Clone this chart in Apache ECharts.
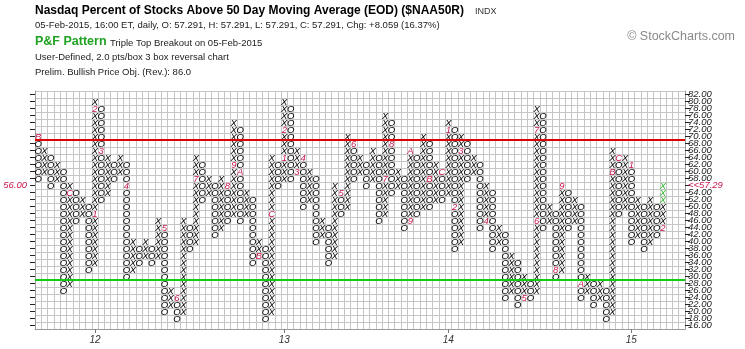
<!DOCTYPE html>
<html>
<head>
<meta charset="utf-8">
<script src="https://cdn.jsdelivr.net/npm/echarts/dist/echarts.min.js"></script>
<style>
  html, body { margin: 0; padding: 0; background: #fff; }
  #chart { width: 745px; height: 349px; }
</style>
</head>
<body>
<div id="chart"></div>
<script>
// Box scale: 2 points per box, 3 box reversal
const boxLevels = [];
for (let v = 16; v <= 82; v += 2) boxLevels.push(v);

// Point & figure columns, oldest first. Columns alternate O / X, starting with O.
const colLow  = [58,60,56,58,26,28,46,48,32,34,52,54,58,60,30,32,34,36,34,36,
                 20,22,18,20,38,40,52,54,42,44,46,48,46,48,34,36,18,20,56,58,
                 58,60,50,52,40,42,34,36,48,50,58,60,56,58,46,48,54,56,44,46,
                 48,50,50,52,52,54,38,40,58,60,44,46,38,40,24,26,22,24,24,26,
                 44,46,30,32,44,46,24,26,22,24,18,20,48,50,40,42,38,40,42,44];
const colHigh = [70,66,64,62,60,56,54,52,50,80,78,64,62,64,62,40,38,40,38,46,
                 44,26,24,46,44,64,62,58,56,58,56,74,72,54,52,40,38,64,62,80,
                 78,66,64,60,58,46,44,56,54,70,68,64,62,66,64,76,74,60,58,66,
                 64,70,68,62,60,74,72,70,68,64,62,56,54,44,42,36,34,30,28,78,
                 76,50,48,56,54,52,50,30,28,28,26,66,64,64,62,52,50,52,50,56];

// Month markers (1-9 = Jan-Sep, A-C = Oct-Dec): column, box, label
const markCol  = [0, 5, 9, 9, 10,14,20,22,25,30,31,32,35,37,39,39,41,42,48,50,
                  55,56,59,59,62,64,65,66,67,71,77,79,79,82,83,86,91,92,94,99];
const markBox  = [70,54,48,78,66,56,44,24,58,56,62,60,36,48,64,72,60,64,54,68,
                  58,68,46,66,58,60,72,50,66,46,24,46,72,32,56,28,60,64,62,44];
const markText = ['B','C','1','2','3','4','5','6','7','8','9','A','B','C','1','2','3','4','5','6',
                  '7','8','9','A','B','C','1','2','3','4','5','6','7','8','9','A','B','C','1','2'];

// Newest boxes of the last column
const latestBoxes = [52, 54, 56];

// Year labels on the column axis
const yearCols   = [9, 39, 65, 94];
const yearLabels = ['12', '13', '14', '15'];

const totalCols = 103;
const lastPrice = 57.29;
const lastBox = 56;
const overboughtLine = 69;
const oversoldLine = 29;

const RED = '#c8174a';
const boxes = [];
for (let c = 0; c < colLow.length; c++) {
  const kind = c % 2 === 0 ? 'O' : 'X';
  for (let v = colLow[c]; v <= colHigh[c]; v += 2) {
    let text = kind, color = '#000';
    for (let i = 0; i < markCol.length; i++) {
      if (markCol[i] === c && markBox[i] === v) { text = markText[i]; color = RED; }
    }
    if (text === kind && c === colLow.length - 1 && latestBoxes.includes(v)) color = '#2fb52f';
    boxes.push({ c, v, text, color });
  }
}

const levelLabels = boxLevels.map(v => v.toFixed(2));
const colCats = Array.from({ length: totalCols }, (_, i) => i);
const labelFont = '"Liberation Sans", Arial, sans-serif';

const chart = echarts.init(document.getElementById('chart'), null, { renderer: 'canvas' });
chart.setOption({
  animation: false,
  backgroundColor: '#fff',
  grid: { left: 35, top: 91, width: 650, height: 238, containLabel: false },
  xAxis: {
    type: 'category',
    data: colCats,
    boundaryGap: true,
    axisLine: { show: true, lineStyle: { color: '#9a9a9a' } },
    axisTick: {
      show: true, alignWithLabel: true, length: 4,
      interval: (i) => yearCols.includes(i),
      lineStyle: { color: '#777' }
    },
    axisLabel: {
      show: true, interval: (i) => yearCols.includes(i), margin: 6,
      formatter: (val) => { const k = yearCols.indexOf(Number(val)); return k >= 0 ? yearLabels[k] : ''; },
      color: '#333', fontSize: 10, fontStyle: 'italic', fontFamily: labelFont
    },
    splitLine: { show: true, interval: 0, lineStyle: { color: '#c6c6c6', width: 1 } }
  },
  yAxis: [
    {
      type: 'category', position: 'right', data: levelLabels, boundaryGap: true,
      axisLine: { show: true, lineStyle: { color: '#9a9a9a' } },
      axisTick: { show: true, interval: 0, alignWithLabel: true, length: 5, lineStyle: { color: '#222' } },
      axisLabel: {
        interval: 0, margin: 3, fontSize: 9.5, fontStyle: 'italic', color: '#222', fontFamily: labelFont,
        formatter: (v) => Number(v) === lastBox ? '{cur|<<' + lastPrice.toFixed(2) + '}' : v,
        rich: { cur: { color: RED, fontStyle: 'italic', fontSize: 9.5, fontFamily: labelFont } }
      },
      splitLine: { show: true, interval: 0, lineStyle: { color: '#c6c6c6', width: 1 } }
    },
    {
      type: 'category', position: 'left', data: levelLabels, boundaryGap: true,
      axisLine: { show: true, lineStyle: { color: '#9a9a9a' } },
      axisTick: { show: true, interval: 0, alignWithLabel: true, length: 5, lineStyle: { color: '#222' } },
      axisLabel: {
        interval: 0, margin: 8, fontSize: 9.5, fontStyle: 'italic', color: RED, fontFamily: labelFont,
        formatter: (v) => Number(v) === lastBox ? v : ''
      },
      splitLine: { show: false }
    },
    { type: 'value', min: 15, max: 83, show: false }
  ],
  series: [{
    type: 'custom',
    xAxisIndex: 0,
    yAxisIndex: 2,
    data: boxes.map(b => [b.c, b.v]),
    encode: { x: 0, y: 1 },
    clip: false,
    renderItem: (params, api) => {
      const b = boxes[params.dataIndex];
      const p = api.coord([b.c, b.v]);
      return {
        type: 'text',
        x: p[0], y: p[1] + 0.5,
        style: {
          text: b.text,
          fill: b.color,
          font: 'italic 9.5px ' + labelFont,
          align: 'center',
          verticalAlign: 'middle'
        }
      };
    },
    markLine: {
      silent: true, symbol: 'none', label: { show: false },
      data: [
        { yAxis: overboughtLine, lineStyle: { color: '#dd0000', width: 2, type: 'solid' } },
        { yAxis: oversoldLine, lineStyle: { color: '#11cc11', width: 2, type: 'solid' } }
      ]
    }
  }],
  graphic: [
    { type: 'text', left: 35, top: 5, style: { text: 'Nasdaq Percent of Stocks Above 50 Day Moving Average (EOD) ($NAA50R)', font: 'bold 12px ' + labelFont, fill: '#000' } },
    { type: 'text', left: 475, top: 7, style: { text: 'INDX', font: '9px ' + labelFont, fill: '#333' } },
    { type: 'text', left: 35, top: 20, style: { text: '05-Feb-2015, 16:00 ET, daily, O: 57.291, H: 57.291, L: 57.291, C: 57.291, Chg: +8.059 (16.37%)', font: '9.5px ' + labelFont, fill: '#222' } },
    { type: 'text', left: 35, top: 35, style: { text: 'P&F Pattern', font: 'bold 12.5px ' + labelFont, fill: '#21a121' } },
    { type: 'text', left: 110, top: 38, style: { text: 'Triple Top Breakout on 05-Feb-2015', font: '9.5px ' + labelFont, fill: '#222' } },
    { type: 'text', left: 35, top: 52, style: { text: 'User-Defined, 2.0 pts/box 3 box reversal chart', font: '9.5px ' + labelFont, fill: '#222' } },
    { type: 'text', left: 35, top: 67, style: { text: 'Prelim. Bullish Price Obj. (Rev.): 86.0', font: '9.5px ' + labelFont, fill: '#222' } },
    { type: 'text', right: 10, top: 30, style: { text: '\u00A9 StockCharts.com', font: '12.5px ' + labelFont, fill: '#8a8a8a' } }
  ]
});
</script>
</body>
</html>
